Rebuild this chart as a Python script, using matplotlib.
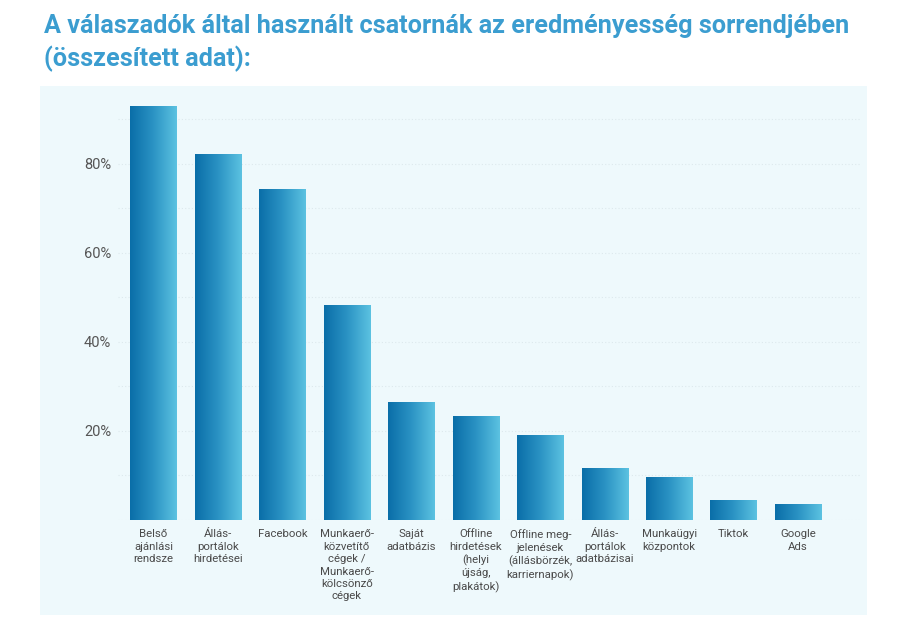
import matplotlib
matplotlib.use("Agg")
import matplotlib.pyplot as plt
import numpy as np
from matplotlib.colors import LinearSegmentedColormap
from matplotlib.patches import Rectangle
from matplotlib.ticker import FixedLocator, MultipleLocator

plt.rcParams["font.family"] = ["Roboto", "DejaVu Sans"]

title = "A válaszadók által használt csatornák az eredményesség sorrendjében\n(összesített adat):"

categories = [
    "Belső\najánlási\nrendsze",
    "Állás-\nportálok\nhirdetései",
    "Facebook",
    "Munkaerő-\nközvetítő\ncégek /\nMunkaerő-\nkölcsönző\ncégek",
    "Saját\nadatbázis",
    "Offline\nhirdetések\n(helyi\nújság,\nplakátok)",
    "Offline meg-\njelenések\n(állásbörzék,\nkarriernapok)",
    "Állás-\nportálok\nadatbázisai",
    "Munkaügyi\nközpontok",
    "Tiktok",
    "Google\nAds",
]
values = [93.0, 82.2, 74.2, 48.2, 26.5, 23.3, 19.0, 11.7, 9.6, 4.4, 3.5]
y_ticks = [20, 40, 60, 80]

W, H = 903, 628
fig = plt.figure(figsize=(W / 100, H / 100), dpi=100)
fig.patch.set_facecolor("white")

# light panel behind the chart
fig.patches.append(Rectangle((40 / W, 1 - 615 / H), 827 / W, 529 / H,
                             transform=fig.transFigure, facecolor="#eef9fc",
                             edgecolor="none", zorder=0))

fig.text(44 / W, 1 - 14 / H, title, ha="left", va="top", fontsize=18.2,
         fontweight="bold", color="#3b9dd0", linespacing=1.38)

ax = fig.add_axes([118 / W, 1 - 519.7 / H, 742 / W, 422.8 / H])
ax.set_zorder(2)
ax.set_facecolor("none")

x = np.arange(len(categories))
bars = ax.bar(x, values, width=0.72, color="none", zorder=3)

cmap = LinearSegmentedColormap.from_list("bar", ["#0a6ea8", "#2b93c4", "#5cc2e1"])
grad = np.linspace(0, 1, 256).reshape(1, -1)
for b in bars:
    x0, y0 = b.get_x(), b.get_y()
    im = ax.imshow(grad, cmap=cmap, aspect="auto", zorder=3,
                   extent=[x0, x0 + b.get_width(), y0, y0 + b.get_height()])
    im.set_clip_path(b)

ax.set_xlim(-0.55, len(categories) - 1 + 0.96)
ax.set_ylim(0, 95)

ax.yaxis.set_major_locator(FixedLocator(y_ticks))
ax.yaxis.set_minor_locator(MultipleLocator(10))
ax.set_yticklabels([f"{t}%" for t in y_ticks])
ax.grid(axis="y", which="both", color="#dde9ed", linestyle=(0, (1, 2)), linewidth=0.8, zorder=1)
ax.set_axisbelow(True)

ax.set_xticks(x)
ax.set_xticklabels(categories, fontsize=8.2, color="#4a4a4a", linespacing=1.3, va="top")
ax.tick_params(axis="x", length=0, pad=7)
ax.tick_params(axis="y", which="both", length=0, pad=5, labelsize=10.5, labelcolor="#555555")
for s in ax.spines.values():
    s.set_visible(False)

fig.savefig("out.png", dpi=100)
